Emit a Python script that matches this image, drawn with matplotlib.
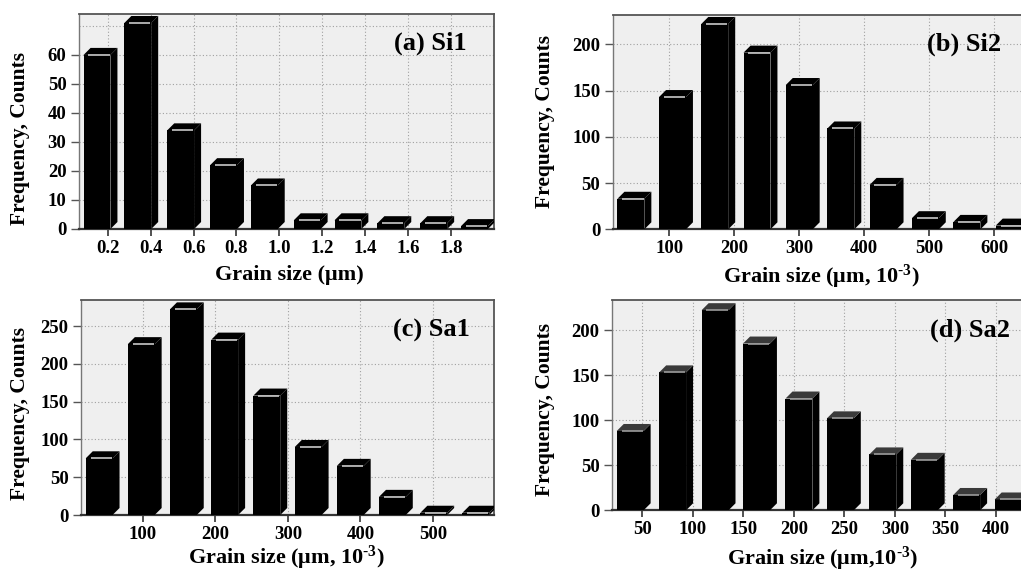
import matplotlib
matplotlib.use("Agg")
import matplotlib.pyplot as plt
from matplotlib.patches import Polygon
import numpy as np

plt.rcParams['font.family'] = ['Liberation Serif', 'DejaVu Serif']
plt.rcParams['font.weight'] = 'bold'
plt.rcParams['mathtext.fontset'] = 'custom'
plt.rcParams['mathtext.rm'] = 'Liberation Serif:bold'
plt.rcParams['mathtext.bf'] = 'Liberation Serif:bold'
plt.rcParams['mathtext.it'] = 'Liberation Serif:bold'

# bin centres and counts of the four grain size histograms
si1Size = [0.15, 0.34, 0.54, 0.74, 0.93, 1.13, 1.32, 1.52, 1.72, 1.91]
si1Count = [60, 71, 34, 22, 15, 3, 3, 2, 2, 1]

si2Size = [41, 105, 170, 235, 300, 364, 429, 494, 558, 623]
si2Count = [33, 143, 222, 191, 156, 109, 48, 12, 8, 4]

sa1Size = [40, 98, 156, 213, 271, 328, 386, 444, 501, 559]
sa1Count = [75, 226, 272, 232, 158, 90, 65, 24, 3, 3]

sa2Size = [38, 80, 122, 163, 205, 246, 288, 329, 371, 412]
sa2Count = [88, 153, 222, 185, 124, 102, 62, 56, 17, 12]

si1Ticks = [0.2, 0.4, 0.6, 0.8, 1.0, 1.2, 1.4, 1.6, 1.8]
si2Ticks = [100, 200, 300, 400, 500, 600]
sa1Ticks = [100, 200, 300, 400, 500]
sa2Ticks = [50, 100, 150, 200, 250, 300, 350, 400]

FIG_W, FIG_H = 1021, 574
GRID = dict(linestyle=(0, (1, 2)), color='#a0a0a0', linewidth=0.8)


def makeAxes(fig, left, top, bottom, width):
	return fig.add_axes([left / FIG_W, 1 - bottom / FIG_H, width / FIG_W, (bottom - top) / FIG_H])


def bars3d(ax, x, y, capColor, lineColor, depthPx=7):
	x = np.asarray(x, dtype=float)
	step = np.mean(np.diff(x))
	w = 0.64 * step
	ax.bar(x, y, width=w, color='black', linewidth=0, zorder=3)

	x0, x1 = ax.get_xlim()
	y0, y1 = ax.get_ylim()
	dx = depthPx * (x1 - x0) / ax.bbox.width
	dy = depthPx * (y1 - y0) / ax.bbox.height

	for xc, h in zip(x, y):
		xl = xc - w / 2
		xr = xc + w / 2
		side = Polygon([(xr, 0), (xr + dx, dy), (xr + dx, h + dy), (xr, h)],
			closed=True, facecolor='black', edgecolor='none', zorder=3)
		top = Polygon([(xl, h), (xl + dx, h + dy), (xr + dx, h + dy), (xr, h)],
			closed=True, facecolor=capColor, edgecolor='none', zorder=3)
		ax.add_patch(side)
		ax.add_patch(top)
		ax.plot([xl + 0.18 * w, xr - 0.03 * w], [h, h], color=lineColor, lw=1.2, zorder=4,
			solid_capstyle='butt')


def styleAxes(ax, xlim, ylim, xticks, yticks, xfmt):
	ax.set_facecolor('#efefef')
	ax.set_xlim(xlim)
	ax.set_ylim(ylim)
	ax.set_xticks(xticks)
	ax.set_xticklabels([xfmt % t for t in xticks])
	ax.set_yticks(yticks)
	ax.set_axisbelow(True)
	ax.grid(True, **GRID)
	for side in ['top', 'right']:
		ax.spines[side].set_color('#555555')
		ax.spines[side].set_linewidth(1.3)
	ax.spines['left'].set_color('#777777')
	ax.spines['left'].set_linewidth(1.0)
	ax.spines['bottom'].set_color('#333333')
	ax.spines['bottom'].set_linewidth(1.6)
	ax.tick_params(axis='x', direction='out', length=5, width=1.2, color='#333333', labelsize=13.5, pad=3)
	ax.tick_params(axis='y', direction='out', length=6, width=1.0, color='#555555', labelsize=13.5, pad=3)
	for lab in ax.get_xticklabels() + ax.get_yticklabels():
		lab.set_fontweight('bold')


def labelAxes(ax, xlabel, xpos, ypos, title, tpos):
	ax.set_xlabel(xlabel, fontsize=16, fontweight='bold', va='center')
	ax.xaxis.set_label_coords(*xpos)
	ax.set_ylabel('Frequency, Counts', fontsize=15.5, fontweight='bold', va='center')
	ax.yaxis.set_label_coords(*ypos)
	ax.text(tpos[0], tpos[1], title, transform=ax.transAxes, ha='right', va='center',
		fontsize=19, fontweight='bold', zorder=5)


def main():
	fig = plt.figure(figsize=(FIG_W / 100, FIG_H / 100), dpi=100)

	axA = makeAxes(fig, 79, 14, 229, 415)
	styleAxes(axA, (0.066, 2.001), (0, 74.1), si1Ticks, range(0, 61, 10), '%.1f')
	axA.axhline(70, zorder=0.5, **GRID)
	bars3d(axA, si1Size, si1Count, 'black', '#c8c8c8')
	labelAxes(axA, 'Grain size (μm)', (0.506, -0.214), (-0.142, 0.42), '(a) Si1', (0.934, 0.865))

	axB = makeAxes(fig, 612.7, 15, 229.3, 415)
	styleAxes(axB, (13, 651.5), (0, 231.7), si2Ticks, range(0, 201, 50), '%d')
	bars3d(axB, si2Size, si2Count, 'black', '#c8c8c8')
	labelAxes(axB, r'Grain size (μm, 10$^{\text{-}3}$)', (0.502, -0.223), (-0.163, 0.505), '(b) Si2', (0.937, 0.865))

	axC = makeAxes(fig, 81, 300, 515, 413.3)
	styleAxes(axC, (15, 584.4), (0, 284.4), sa1Ticks, range(0, 251, 50), '%d')
	bars3d(axC, sa1Size, sa1Count, 'black', '#c8c8c8')
	labelAxes(axC, r'Grain size (μm, 10$^{\text{-}3}$)', (0.498, -0.2), (-0.148, 0.474), '(c) Sa1', (0.941, 0.86))

	axD = makeAxes(fig, 612, 300, 510.3, 415)
	styleAxes(axD, (20, 430.7), (0, 233.3), sa2Ticks, range(0, 201, 50), '%d')
	bars3d(axD, sa2Size, sa2Count, '#3a3a3a', '#9a9a9a')
	labelAxes(axD, r'Grain size (μm,10$^{\text{-}3}$)', (0.508, -0.23), (-0.161, 0.477), '(d) Sa2', (0.959, 0.857))

	fig.savefig('out.png', dpi=100, facecolor='white')


if __name__ == "__main__":
	main()
